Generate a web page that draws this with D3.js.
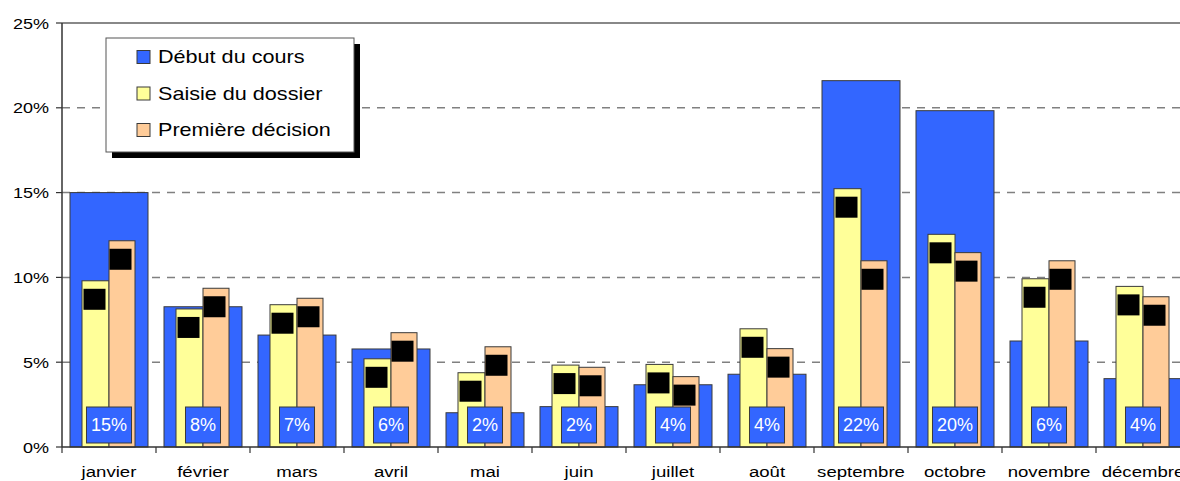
<!DOCTYPE html>
<html><head><meta charset="utf-8">
<script src="https://cdn.jsdelivr.net/npm/d3@7/dist/d3.min.js"></script>
<style>body{margin:0;background:#fff;} svg{display:block;font-family:"Liberation Sans",Arial,sans-serif;}</style>
</head><body><svg id="c" width="1180" height="481"></svg>
<script>
const months = ["janvier","février","mars","avril","mai","juin","juillet","août","septembre","octobre","novembre","décembre"];
const seriesNames = ["Début du cours","Saisie du dossier","Première décision"];
const debut =    [15.0, 8.27, 6.6, 5.78, 2.02, 2.38, 3.67, 4.29, 21.6, 19.83, 6.25, 4.03];
const saisie =   [9.8, 8.14, 8.39, 5.2, 4.38, 4.83, 4.87, 6.97, 15.23, 12.54, 9.92, 9.47];
const decision = [12.16, 9.36, 8.77, 6.74, 5.91, 4.7, 4.15, 5.8, 10.98, 11.46, 10.98, 8.86];
const yTicks = [0, 5, 10, 15, 20, 25];

const colors = ["#3366FF","#FFFF99","#FFCC99"];
const stroke = "#3a3a3a";
const SX = 1.2; // horizontal text stretch
const svg = d3.select("#c");

const x = d3.scaleBand().domain(months).range([62, 1190]).padding(0);
const y = d3.scaleLinear().domain([0, 25]).range([447, 23]);
const sub = d3.scaleBand().domain(["s","d"]).range([-27, 27]).padding(0);

function stretchedText(sel, fx, fy){
  sel.attr("transform", (d,i) => `translate(${fx(d,i)},${fy(d,i)}) scale(${SX},1)`);
}

// gridlines
svg.append("g").selectAll("line").data(yTicks.filter(t => t > 0 && t < 25)).join("line")
  .attr("x1", 62).attr("x2", 1190).attr("y1", d => y(d)).attr("y2", d => y(d))
  .attr("stroke", "#808080").attr("stroke-width", 1.5).attr("stroke-dasharray", "8,7");
svg.append("line").attr("x1", 62).attr("x2", 1190).attr("y1", y(25)).attr("y2", y(25))
  .attr("stroke", "#888").attr("stroke-width", 2);

const groups = svg.append("g").selectAll("g").data(months).join("g")
  .attr("transform", d => `translate(${x(d) + x.bandwidth()/2},0)`);

// blue bars
groups.append("rect")
  .attr("x", -39).attr("width", 78)
  .attr("y", (d,i) => y(debut[i])).attr("height", (d,i) => y(0) - y(debut[i]))
  .attr("fill", colors[0]).attr("stroke", stroke).attr("stroke-width", 1);
// yellow
groups.append("rect")
  .attr("x", sub("s")).attr("width", sub.bandwidth())
  .attr("y", (d,i) => y(saisie[i])).attr("height", (d,i) => y(0) - y(saisie[i]))
  .attr("fill", colors[1]).attr("stroke", stroke).attr("stroke-width", 1);
// orange
groups.append("rect")
  .attr("x", sub("d")).attr("width", sub.bandwidth() - 1)
  .attr("y", (d,i) => y(decision[i])).attr("height", (d,i) => y(0) - y(decision[i]))
  .attr("fill", colors[2]).attr("stroke", stroke).attr("stroke-width", 1);
// black markers
groups.append("rect")
  .attr("x", sub("s") + sub.bandwidth()/2 - 12).attr("width", 22)
  .attr("y", (d,i) => y(saisie[i]) + 8).attr("height", 21).attr("fill", "#000");
groups.append("rect")
  .attr("x", sub("d") + sub.bandwidth()/2 - 13).attr("width", 22)
  .attr("y", (d,i) => y(decision[i]) + 8).attr("height", 21).attr("fill", "#000");

// value label boxes
const fmt = v => Math.round(v) + "%";
groups.each(function(d,i){
  const g = d3.select(this);
  const box = g.append("rect").attr("fill", colors[0]).attr("stroke", stroke).attr("stroke-width", 1);
  const t = g.append("text").text(fmt(debut[i])).attr("fill", "#fff").attr("font-size", 18)
    .attr("text-anchor", "middle").attr("x", 0).attr("y", 430.5);
  const w = t.node().getComputedTextLength() + 9;
  box.attr("x", -w/2).attr("width", w).attr("y", 407).attr("height", 36);
});

// axes
svg.append("line").attr("x1", 62).attr("x2", 62).attr("y1", y(25)).attr("y2", y(0))
  .attr("stroke", "#333").attr("stroke-width", 1.5);
svg.append("line").attr("x1", 62).attr("x2", 1190).attr("y1", y(0)).attr("y2", y(0))
  .attr("stroke", "#333").attr("stroke-width", 1.5);
svg.append("g").selectAll("line").data(yTicks).join("line")
  .attr("x1", 56).attr("x2", 62).attr("y1", d => y(d)).attr("y2", d => y(d))
  .attr("stroke", "#333").attr("stroke-width", 1.2);
svg.append("g").selectAll("text").data(yTicks).join("text")
  .text(d => d + "%").attr("font-size", 15).attr("text-anchor", "end").attr("fill", "#000")
  .call(stretchedText, () => 49, d => y(d) + 5.5);
svg.append("g").selectAll("line").data(months.map(m => x(m)).concat([x.range()[1]])).join("line")
  .attr("x1", d => d).attr("x2", d => d).attr("y1", y(0)).attr("y2", y(0) + 6)
  .attr("stroke", "#333").attr("stroke-width", 1.2);
svg.append("g").selectAll("text").data(months).join("text")
  .text(d => d).attr("font-size", 15.5).attr("text-anchor", "middle").attr("fill", "#000")
  .call(stretchedText, d => x(d) + x.bandwidth()/2, () => 477);

// legend
const lg = svg.append("g");
lg.append("rect").attr("x", 112).attr("y", 44).attr("width", 248).attr("height", 114).attr("fill", "#000");
lg.append("rect").attr("x", 106).attr("y", 38).attr("width", 248).attr("height", 114)
  .attr("fill", "#fff").attr("stroke", "#555").attr("stroke-width", 1);
const items = lg.selectAll("g.it").data(seriesNames).join("g").attr("class", "it");
items.append("rect").attr("x", 137).attr("y", (d,i) => 50.5 + i*36.5).attr("width", 13).attr("height", 13)
  .attr("fill", (d,i) => colors[i]).attr("stroke", stroke).attr("stroke-width", 1);
items.append("text").text(d => d).attr("font-size", 18).attr("fill", "#000")
  .call(stretchedText, () => 158, (d,i) => 63 + i*36.5);
</script></body></html>
